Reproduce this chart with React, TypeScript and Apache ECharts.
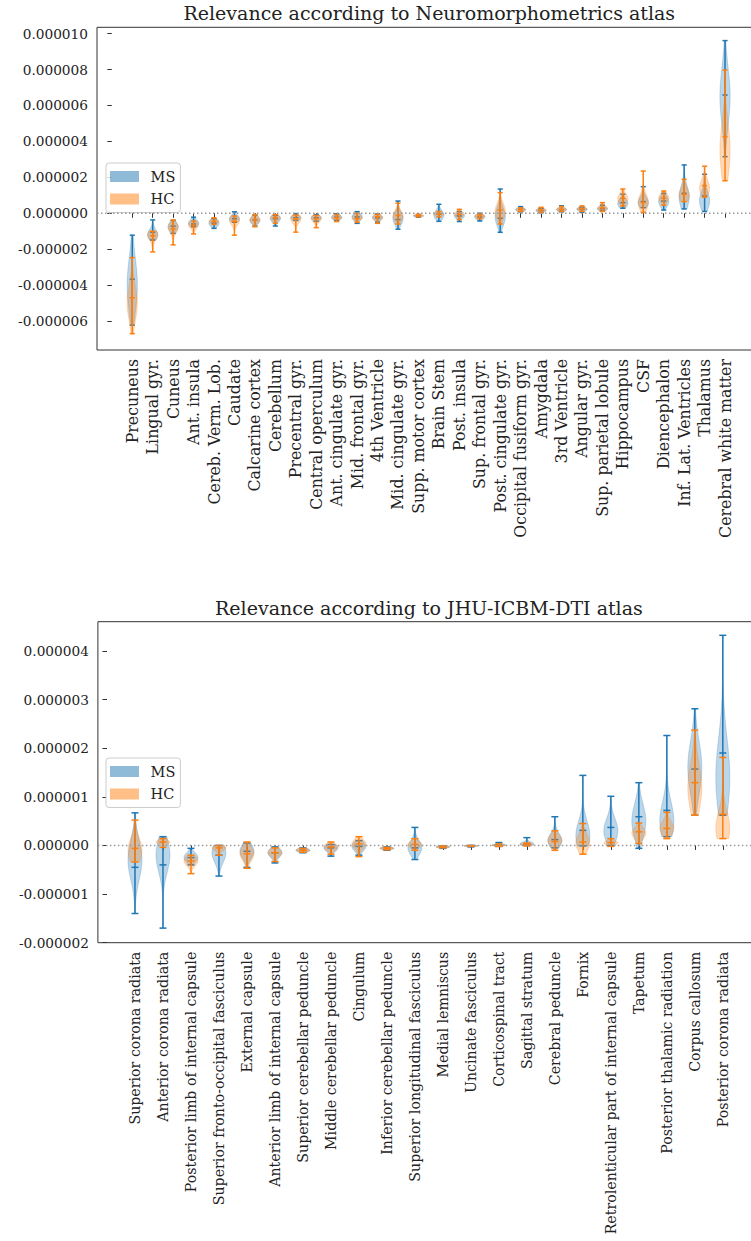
import React, { useEffect, useRef } from "react";
import * as echarts from "echarts";

// values are in units of 1e-6
const SCALE = 1e-6;

const neuroCategories = [
  "Precuneus", "Lingual gyr.", "Cuneus", "Ant. insula", "Cereb. Verm. Lob.", "Caudate",
  "Calcarine cortex", "Cerebellum", "Precentral gyr.", "Central operculum", "Ant. cingulate gyr.",
  "Mid. frontal gyr.", "4th Ventricle", "Mid. cingulate gyr.", "Supp. motor cortex", "Brain Stem",
  "Post. insula", "Sup. frontal gyr.", "Post. cingulate gyr.", "Occipital fusiform gyr.", "Amygdala",
  "3rd Ventricle", "Angular gyr.", "Sup. parietal lobule", "Hippocampus", "CSF", "Diencephalon",
  "Inf. Lat. Ventricles", "Thalamus", "Cerebral white matter",
];

// [min, median, max, mode (widest point), spread]
const neuroMS = [
  [-6.23, -3.67, -1.22, -4.0, 1.5],
  [-1.49, -1.05, -0.37, -1.2, 0.3],
  [-1.12, -0.72, -0.4, -0.75, 0.25],
  [-0.75, -0.6, -0.22, -0.55, 0.2],
  [-0.84, -0.55, -0.3, -0.55, 0.2],
  [-0.5, -0.3, 0.08, -0.3, 0.2],
  [-0.72, -0.37, -0.1, -0.4, 0.2],
  [-0.71, -0.3, -0.12, -0.3, 0.2],
  [-0.4, -0.25, -0.02, -0.25, 0.15],
  [-0.45, -0.25, -0.08, -0.25, 0.15],
  [-0.4, -0.22, -0.03, -0.22, 0.15],
  [-0.56, -0.2, 0.09, -0.2, 0.2],
  [-0.5, -0.25, -0.03, -0.25, 0.15],
  [-0.89, -0.35, 0.68, -0.3, 0.35],
  [-0.22, -0.15, -0.08, -0.15, 0.06],
  [-0.45, -0.05, 0.5, -0.1, 0.25],
  [-0.46, -0.15, 0.1, -0.15, 0.15],
  [-0.43, -0.2, 0.0, -0.2, 0.15],
  [-1.06, -0.28, 1.35, -0.2, 0.5],
  [0.08, 0.22, 0.37, 0.2, 0.1],
  [0.03, 0.15, 0.28, 0.15, 0.08],
  [0.08, 0.2, 0.42, 0.2, 0.1],
  [0.05, 0.22, 0.35, 0.22, 0.1],
  [0.12, 0.25, 0.45, 0.25, 0.1],
  [0.28, 0.59, 1.06, 0.55, 0.25],
  [0.31, 0.65, 1.48, 0.6, 0.3],
  [0.18, 0.68, 1.11, 0.65, 0.3],
  [0.24, 1.11, 2.69, 0.9, 0.6],
  [0.1, 0.96, 2.17, 0.7, 0.5],
  [3.15, 6.58, 9.61, 6.5, 1.6],
];

const neuroHC = [
  [-6.7, -4.7, -2.47, -5.0, 1.0],
  [-2.15, -1.25, -1.0, -1.2, 0.3],
  [-1.76, -0.87, -0.37, -0.8, 0.3],
  [-1.15, -0.68, -0.43, -0.65, 0.2],
  [-0.62, -0.45, -0.25, -0.45, 0.12],
  [-1.22, -0.45, -0.15, -0.4, 0.25],
  [-0.75, -0.35, -0.08, -0.35, 0.2],
  [-0.55, -0.25, -0.07, -0.25, 0.15],
  [-1.05, -0.3, -0.1, -0.3, 0.25],
  [-0.8, -0.3, -0.12, -0.3, 0.2],
  [-0.46, -0.25, -0.08, -0.25, 0.12],
  [-0.5, -0.3, 0.0, -0.25, 0.15],
  [-0.56, -0.2, -0.06, -0.22, 0.15],
  [-0.6, -0.12, 0.56, -0.15, 0.3],
  [-0.2, -0.12, -0.06, -0.12, 0.05],
  [-0.2, -0.05, 0.1, -0.05, 0.1],
  [-0.35, -0.05, 0.22, -0.05, 0.15],
  [-0.3, -0.15, -0.05, -0.15, 0.1],
  [-0.6, 0.18, 1.15, 0.1, 0.45],
  [0.1, 0.2, 0.3, 0.2, 0.07],
  [0.05, 0.18, 0.33, 0.18, 0.09],
  [0.1, 0.22, 0.38, 0.22, 0.09],
  [0.1, 0.25, 0.41, 0.25, 0.1],
  [0.1, 0.3, 0.59, 0.28, 0.14],
  [0.4, 0.83, 1.35, 0.8, 0.3],
  [0.05, 0.6, 2.35, 0.6, 0.45],
  [0.45, 0.85, 1.24, 0.85, 0.25],
  [0.65, 1.05, 1.89, 1.0, 0.4],
  [0.9, 1.54, 2.62, 1.4, 0.45],
  [1.81, 4.26, 7.97, 3.5, 1.5],
];

const jhuCategories = [
  "Superior corona radiata", "Anterior corona radiata", "Posterior limb of internal capsule",
  "Superior fronto-occipital fasciculus", "External capsule", "Anterior limb of internal capsule",
  "Superior cerebellar peduncle", "Middle cerebellar peduncle", "Cingulum",
  "Inferior cerebellar peduncle", "Superior longitudinal fasciculus", "Medial lemniscus",
  "Uncinate fasciculus", "Corticospinal tract", "Sagittal stratum", "Cerebral peduncle", "Fornix",
  "Retrolenticular part of internal capsule", "Tapetum", "Posterior thalamic radiation",
  "Corpus callosum", "Posterior corona radiata",
];

const jhuMS = [
  [-1.4, -0.45, 0.67, -0.3, 0.4],
  [-1.7, -0.4, 0.18, -0.2, 0.35],
  [-0.4, -0.25, -0.06, -0.25, 0.1],
  [-0.63, -0.2, 0.0, -0.15, 0.2],
  [-0.45, -0.12, 0.05, -0.12, 0.15],
  [-0.36, -0.15, -0.03, -0.15, 0.1],
  [-0.15, -0.1, -0.05, -0.1, 0.04],
  [-0.22, -0.05, 0.02, -0.05, 0.08],
  [-0.2, -0.02, 0.1, -0.02, 0.1],
  [-0.1, -0.06, -0.03, -0.06, 0.03],
  [-0.29, -0.05, 0.37, -0.05, 0.15],
  [-0.06, -0.03, -0.01, -0.03, 0.02],
  [-0.03, -0.01, 0.0, -0.01, 0.01],
  [-0.02, 0.01, 0.06, 0.01, 0.02],
  [0.0, 0.03, 0.16, 0.03, 0.04],
  [-0.05, 0.12, 0.59, 0.1, 0.15],
  [-0.01, 0.31, 1.44, 0.2, 0.3],
  [0.0, 0.37, 1.01, 0.3, 0.25],
  [-0.06, 0.59, 1.29, 0.5, 0.35],
  [0.18, 0.72, 2.26, 0.5, 0.4],
  [0.62, 1.57, 2.81, 1.6, 0.55],
  [0.62, 1.9, 4.32, 1.4, 0.8],
];

const jhuHC = [
  [-0.34, -0.06, 0.52, -0.1, 0.25],
  [-0.04, 0.07, 0.14, 0.07, 0.05],
  [-0.58, -0.32, -0.2, -0.32, 0.1],
  [-0.2, -0.05, 0.0, -0.05, 0.06],
  [-0.47, -0.17, 0.07, -0.17, 0.15],
  [-0.33, -0.15, -0.05, -0.15, 0.08],
  [-0.14, -0.1, -0.06, -0.1, 0.03],
  [-0.18, -0.03, 0.07, -0.03, 0.07],
  [-0.23, 0.03, 0.18, 0.03, 0.1],
  [-0.09, -0.06, -0.04, -0.06, 0.02],
  [-0.1, 0.02, 0.14, 0.02, 0.07],
  [-0.05, -0.03, -0.01, -0.03, 0.015],
  [-0.02, -0.01, 0.0, -0.01, 0.01],
  [-0.02, 0.0, 0.03, 0.0, 0.015],
  [-0.01, 0.02, 0.05, 0.02, 0.02],
  [-0.1, 0.08, 0.3, 0.1, 0.12],
  [-0.18, 0.07, 0.45, 0.05, 0.18],
  [-0.02, 0.06, 0.14, 0.05, 0.05],
  [0.04, 0.28, 0.46, 0.25, 0.12],
  [0.14, 0.35, 0.68, 0.35, 0.15],
  [0.62, 1.29, 2.37, 1.2, 0.5],
  [0.14, 0.64, 1.81, 0.35, 0.35],
];

const neuroYTicks = [-6, -4, -2, 0, 2, 4, 6, 8, 10];
const jhuYTicks = [-2, -1, 0, 1, 2, 3, 4];

const FONT = '"DejaVu Serif", "Liberation Serif", serif';
const TEXT = "#222222";
const FRAME = "#333333";
const MS_COLOR = "#1f77b4";
const HC_COLOR = "#ff7f0e";
const Y_TICK_FONT = 13.7;
const X_TICK_FONT_TOP = 15.8;
const X_TICK_FONT_BOTTOM = 14.2;
const TITLE_FONT = 19;

function rgba(hex: string, a: number) {
  const n = parseInt(hex.slice(1), 16);
  return `rgba(${(n >> 16) & 255},${(n >> 8) & 255},${n & 255},${a})`;
}

function toData(rows: number[][]) {
  return rows.map((r, i) => [i + 1, r[0] * SCALE, r[1] * SCALE, r[2] * SCALE, r[3] * SCALE, r[4] * SCALE]);
}

function makeRenderItem(color: string) {
  return (params: any, api: any) => {
    const x = api.value(0);
    const mn = api.value(1);
    const md = api.value(2);
    const mx = api.value(3);
    const mode = api.value(4);
    const sp = api.value(5);
    const cx = api.coord([x, 0])[0];
    const hw = api.size([0.25, 0])[0];
    const cap = api.size([0.125, 0])[0];
    const N = 48;
    const ws: number[] = [];
    const vs: number[] = [];
    let wmax = 0;
    for (let i = 0; i <= N; i++) {
      const v = mn + ((mx - mn) * i) / N;
      const w = Math.exp(-0.5 * Math.pow((v - mode) / sp, 2));
      ws.push(w);
      vs.push(v);
      if (w > wmax) wmax = w;
    }
    const right: number[][] = [];
    const left: number[][] = [];
    for (let i = 0; i <= N; i++) {
      const y = api.coord([x, vs[i]])[1];
      const w = (hw * ws[i]) / wmax;
      right.push([cx + w, y]);
      left.push([cx - w, y]);
    }
    const pts = right.concat(left.reverse());
    const yMin = api.coord([x, mn])[1];
    const yMed = api.coord([x, md])[1];
    const yMax = api.coord([x, mx])[1];
    const ls = { stroke: color, lineWidth: 1.5 };
    return {
      type: "group",
      children: [
        {
          type: "polygon",
          shape: { points: pts },
          style: { fill: rgba(color, 0.3), stroke: rgba(color, 0.3), lineWidth: 0.8 },
        },
        { type: "line", shape: { x1: cx, y1: yMin, x2: cx, y2: yMax }, style: ls },
        { type: "line", shape: { x1: cx - cap, y1: yMin, x2: cx + cap, y2: yMin }, style: ls },
        { type: "line", shape: { x1: cx - cap, y1: yMax, x2: cx + cap, y2: yMax }, style: ls },
        { type: "line", shape: { x1: cx - cap, y1: yMed, x2: cx + cap, y2: yMed }, style: ls },
      ],
    };
  };
}

const xMinTop = -0.725, xMaxTop = 31.725;
const xMinBot = -0.325, xMaxBot = 23.325;
const yMinTop = -7.61, yMaxTop = 10.35;
const yMinBot = -2.0, yMaxBot = 4.6;

function xAxisFor(gridIndex: number, min: number, max: number, cats: string[], fontSize: number) {
  const vals = cats.map((_, i) => i + 1);
  return {
    type: "value",
    gridIndex,
    min,
    max,
    splitLine: { show: false },
    axisLine: { show: false },
    axisTick: { show: true, customValues: vals, length: 4.5, lineStyle: { color: FRAME, width: 1 } },
    axisLabel: {
      customValues: vals,
      rotate: 90,
      margin: 9,
      fontFamily: FONT,
      fontSize,
      color: TEXT,
      formatter: (v: number) => cats[Math.round(v) - 1] ?? "",
    },
  };
}

function yAxisFor(gridIndex: number, min: number, max: number, ticks: number[]) {
  const vals = ticks.map((t) => t * SCALE);
  return {
    type: "value",
    gridIndex,
    min: min * SCALE,
    max: max * SCALE,
    splitLine: { show: false },
    axisLine: { show: false },
    axisTick: { show: true, customValues: vals, length: 4.5, lineStyle: { color: FRAME, width: 1 } },
    axisLabel: {
      customValues: vals,
      margin: 9,
      fontFamily: FONT,
      fontSize: Y_TICK_FONT,
      color: TEXT,
      formatter: (v: number) => v.toFixed(6),
    },
  };
}

function legendFor(top: number) {
  return {
    orient: "vertical",
    left: 106,
    top,
    data: [
      { name: "MS", icon: "rect", itemStyle: { color: rgba(MS_COLOR, 0.5) } },
      { name: "HC", icon: "rect", itemStyle: { color: rgba(HC_COLOR, 0.5) } },
    ],
    itemWidth: 29,
    itemHeight: 11,
    itemGap: 7.5,
    padding: [6, 5, 6, 4],
    backgroundColor: "rgba(255,255,255,0.8)",
    borderColor: "#cccccc",
    borderWidth: 1,
    borderRadius: 3,
    selectedMode: false,
    textStyle: { fontFamily: FONT, fontSize: 14.5, color: TEXT, lineHeight: 15, padding: [0, 0, 0, 6.6] },
  };
}

function zeroLine(xAxisIndex: number, yAxisIndex: number, xmin: number, xmax: number) {
  return {
    type: "line",
    name: "zero",
    xAxisIndex,
    yAxisIndex,
    data: [[xmin, 0], [xmax, 0]],
    showSymbol: false,
    symbol: "none",
    silent: true,
    z: 5,
    lineStyle: { color: "#999999", width: 1.5, type: [1.5, 2.5] },
  };
}

function violinSeries(name: string, color: string, rows: number[][], axisIndex: number) {
  return {
    type: "custom",
    name,
    xAxisIndex: axisIndex,
    yAxisIndex: axisIndex,
    data: toData(rows),
    encode: { x: 0, y: [1, 2, 3] },
    itemStyle: { color },
    renderItem: makeRenderItem(color),
    z: 2,
  };
}

export default function App() {
  const ref = useRef<HTMLDivElement>(null);
  useEffect(() => {
    if (!ref.current) return;
    const chart = echarts.init(ref.current, null, { renderer: "svg" });
    const option: any = {
      animation: false,
      backgroundColor: "#ffffff",
      textStyle: { fontFamily: FONT },
      graphic: [
        {
          type: "text",
          x: 429.3,
          y: 13.4,
          style: {
            text: "Relevance according to Neuromorphometrics atlas",
            fontFamily: FONT,
            fontSize: TITLE_FONT,
            fill: TEXT,
            textAlign: "center",
            textVerticalAlign: "middle",
          },
        },
        {
          type: "text",
          x: 428.9,
          y: 608.4,
          style: {
            text: "Relevance according to JHU-ICBM-DTI atlas",
            fontFamily: FONT,
            fontSize: TITLE_FONT,
            fill: TEXT,
            textAlign: "center",
            textVerticalAlign: "middle",
          },
        },
      ],
      grid: [
        { left: 97, top: 27.3, width: 663.3, height: 322.7, outerBoundsMode: "none", containLabel: false, show: true, borderColor: FRAME, borderWidth: 1, backgroundColor: "transparent" },
        { left: 97.9, top: 621.7, width: 662, height: 321, outerBoundsMode: "none", containLabel: false, show: true, borderColor: FRAME, borderWidth: 1, backgroundColor: "transparent" },
      ],
      xAxis: [
        xAxisFor(0, xMinTop, xMaxTop, neuroCategories, X_TICK_FONT_TOP),
        xAxisFor(1, xMinBot, xMaxBot, jhuCategories, X_TICK_FONT_BOTTOM),
      ],
      yAxis: [
        yAxisFor(0, yMinTop, yMaxTop, neuroYTicks),
        yAxisFor(1, yMinBot, yMaxBot, jhuYTicks),
      ],
      legend: [legendFor(163), legendFor(758)],
      series: [
        violinSeries("MS", MS_COLOR, neuroMS, 0),
        violinSeries("HC", HC_COLOR, neuroHC, 0),
        violinSeries("MS", MS_COLOR, jhuMS, 1),
        violinSeries("HC", HC_COLOR, jhuHC, 1),
        zeroLine(0, 0, xMinTop, xMaxTop),
        zeroLine(1, 1, xMinBot, xMaxBot),
      ],
    };
    chart.setOption(option);
    return () => chart.dispose();
  }, []);
  return (
    <div
      ref={ref}
      style={{ position: "absolute", left: 0, top: 0, width: 751, height: 1241, background: "#fff" }}
    />
  );
}
